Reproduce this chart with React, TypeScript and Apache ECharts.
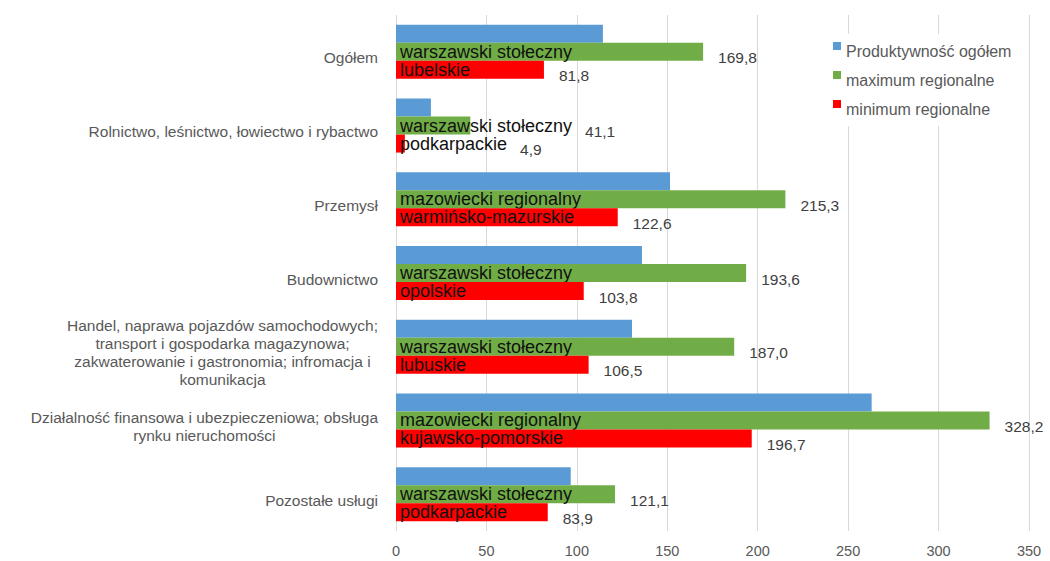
import React, { useEffect, useRef } from "react";
import * as echarts from "echarts";

const categories = [
  "Ogółem",
  "Rolnictwo, leśnictwo, łowiectwo i rybactwo",
  "Przemysł",
  "Budownictwo",
  "Handel, naprawa pojazdów samochodowych;\ntransport i gospodarka magazynowa;\nzakwaterowanie i gastronomia; infromacja i\nkomunikacja",
  "Działalność finansowa i ubezpieczeniowa; obsługa\nrynku nieruchomości",
  "Pozostałe usługi",
];

const overallValues = [114.4, 19.3, 151.5, 136, 130.5, 263, 96.6];
const maxValues = [169.8, 41.1, 215.3, 193.6, 187.0, 328.2, 121.1];
const maxRegions = [
  "warszawski stołeczny",
  "warszawski stołeczny",
  "mazowiecki regionalny",
  "warszawski stołeczny",
  "warszawski stołeczny",
  "mazowiecki regionalny",
  "warszawski stołeczny",
];
const minValues = [81.8, 4.9, 122.6, 103.8, 106.5, 196.7, 83.9];
const minRegions = [
  "lubelskie",
  "podkarpackie",
  "warmińsko-mazurskie",
  "opolskie",
  "lubuskie",
  "kujawsko-pomorskie",
  "podkarpackie",
];

const seriesNames = ["Produktywność ogółem", "maximum regionalne", "minimum regionalne"];
const xMin = 0;
const xMax = 350;
const xInterval = 50;

const FONT = "'Liberation Sans', Arial, sans-serif";
const BLUE = "#5b9bd5";
const GREEN = "#70ad47";
const RED = "#ff0000";
const NAME_FONT_SIZE = 18;
const NAME_DISTANCE = 4;
const VALUE_DISTANCE = 15;
const VALUE_GAP_AFTER_NAME = 13;

const fmt = (v: number) => v.toFixed(1).replace(".", ",");

// legend icon: square in the upper part of the item box so the text sits lower
const LEGEND_ICON = "path://M0,0h8v8h-8z M0,17.99h0.01v0.01h-0.01z";

export default function App() {
  const ref = useRef<HTMLDivElement>(null);

  useEffect(() => {
    document.body.style.margin = "0";
    if (!ref.current) return;
    const chart = echarts.init(ref.current, null, { renderer: "svg" });

    const canvas = document.createElement("canvas");
    const ctx = canvas.getContext("2d");
    const measure = (t: string) => {
      if (!ctx) return t.length * NAME_FONT_SIZE * 0.5;
      ctx.font = `${NAME_FONT_SIZE}px 'Liberation Sans', Arial, sans-serif`;
      return ctx.measureText(t).width;
    };

    const nameLabel = (names: string[]) => ({
      show: true,
      position: "insideLeft" as const,
      distance: NAME_DISTANCE,
      fontFamily: FONT,
      fontSize: NAME_FONT_SIZE,
      color: "#111111",
      formatter: (p: any) => names[p.dataIndex],
    });

    const valueLabel = {
      show: true,
      position: "right" as const,
      distance: VALUE_DISTANCE,
      offset: [0, 6],
      fontFamily: FONT,
      fontSize: 15.5,
      color: "#404040",
      formatter: (p: any) => fmt(typeof p.value === "number" ? p.value : p.data.value),
    };

    const catAxisBase = {
      type: "category" as const,
      data: categories,
      inverse: true,
      axisLine: { show: false },
      axisTick: { show: false },
      splitLine: { show: false },
    };

    chart.setOption({
      animation: false,
      backgroundColor: "#ffffff",
      grid: { left: 396, right: 21, top: 15, bottom: 30, containLabel: false },
      legend: {
        data: seriesNames.map((n) => ({ name: n, icon: LEGEND_ICON })),
        orient: "vertical",
        left: 825,
        top: 34,
        padding: [8, 8, 8, 8],
        backgroundColor: "#ffffff",
        itemWidth: 8,
        itemHeight: 18,
        itemGap: 11,
        itemStyle: { borderWidth: 0 },
        textStyle: {
          fontFamily: FONT,
          fontSize: 16,
          color: "#595959",
        },
      },
      xAxis: {
        type: "value",
        min: xMin,
        max: xMax,
        interval: xInterval,
        axisLine: { show: false },
        axisTick: { show: false },
        splitLine: { show: true, lineStyle: { color: "#d9d9d9", width: 1 } },
        axisLabel: {
          fontFamily: FONT,
          fontSize: 14.5,
          color: "#595959",
          margin: 12,
        },
      },
      yAxis: [
        {
          ...catAxisBase,
          axisLabel: {
            fontFamily: FONT,
            fontSize: 15.5,
            color: "#595959",
            margin: 18,
            lineHeight: 18,
            padding: [12, 0, 0, 0],
            formatter: (v: string) =>
              v
                .split("\n")
                .map((line) => `{c|${line}}`)
                .join("\n"),
            rich: {
              c: {
                align: "center",
                fontFamily: FONT,
                fontSize: 15.5,
                color: "#595959",
                lineHeight: 18,
              },
            },
          },
        },
        {
          ...catAxisBase,
          show: false,
          axisLabel: { show: false },
        },
      ],
      series: [
        {
          name: seriesNames[0],
          type: "bar",
          yAxisIndex: 0,
          data: overallValues,
          barWidth: 18,
          barGap: "0%",
          itemStyle: { color: BLUE },
        },
        {
          name: seriesNames[1],
          type: "bar",
          yAxisIndex: 0,
          data: maxValues,
          barWidth: 18,
          barGap: "0%",
          itemStyle: { color: GREEN },
          label: nameLabel(maxRegions),
        },
        {
          name: seriesNames[2],
          type: "bar",
          yAxisIndex: 0,
          data: minValues,
          barWidth: 18,
          barGap: "0%",
          itemStyle: { color: RED },
          label: nameLabel(minRegions),
          z: 3,
        },
        {
          id: "overallVal",
          name: "_overall",
          type: "bar",
          yAxisIndex: 1,
          data: overallValues,
          barWidth: 18,
          barGap: "0%",
          itemStyle: { color: "rgba(0,0,0,0)" },
          silent: true,
        },
        {
          id: "maxVal",
          name: "_max",
          type: "bar",
          yAxisIndex: 1,
          data: maxValues,
          barWidth: 18,
          barGap: "0%",
          itemStyle: { color: "rgba(0,0,0,0)" },
          label: valueLabel,
          silent: true,
        },
        {
          id: "minVal",
          name: "_min",
          type: "bar",
          yAxisIndex: 1,
          data: minValues,
          barWidth: 18,
          barGap: "0%",
          itemStyle: { color: "rgba(0,0,0,0)" },
          label: valueLabel,
          silent: true,
        },
      ],
    });

    // push value labels past the region name when the name is longer than the bar
    const x0 = chart.convertToPixel({ xAxisIndex: 0 }, 0) as number;
    const withDistances = (values: number[], names: string[]) =>
      values.map((v, i) => {
        const end = chart.convertToPixel({ xAxisIndex: 0 }, v) as number;
        const textEnd = x0 + NAME_DISTANCE + measure(names[i]);
        const need = textEnd + VALUE_GAP_AFTER_NAME - end;
        return { value: v, label: { distance: Math.max(VALUE_DISTANCE, need) } };
      });

    chart.setOption({
      series: [
        { id: "maxVal", data: withDistances(maxValues, maxRegions) },
        { id: "minVal", data: withDistances(minValues, minRegions) },
      ],
    });

    return () => chart.dispose();
  }, []);

  return <div ref={ref} style={{ width: 1050, height: 561 }} />;
}
